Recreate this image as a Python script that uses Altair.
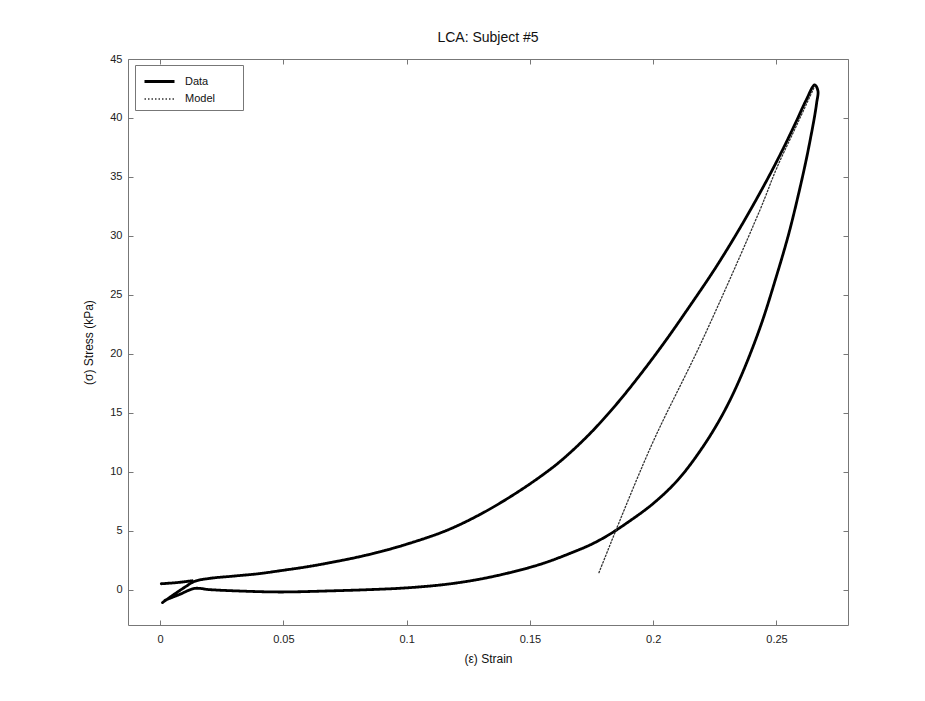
import altair as alt
import pandas as pd

# ---- Data ----
# Loading branch (strain, stress in kPa)
load_strain = [0.001, 0.005, 0.010, 0.014, 0.020, 0.030, 0.040, 0.0486, 0.060, 0.070,
               0.080, 0.089, 0.100, 0.116, 0.130, 0.143, 0.155, 0.163, 0.1742, 0.185,
               0.195, 0.205, 0.215, 0.225, 0.235, 0.245, 0.252, 0.258, 0.262, 0.2655]
load_stress = [-1.1, -0.5, 0.2, 0.7, 0.95, 1.15, 1.35, 1.6, 1.95, 2.33,
               2.75, 3.2, 3.85, 5.0, 6.4, 8.0, 9.7, 11.0, 13.2, 15.7,
               18.3, 21.1, 24.1, 27.2, 30.6, 34.3, 37.1, 39.7, 41.5, 42.8]
# Unloading branch
unload_strain = [0.2668, 0.2663, 0.2655, 0.264, 0.262, 0.259, 0.255, 0.250, 0.2433, 0.235,
                 0.228, 0.2198, 0.210, 0.200, 0.190, 0.182, 0.175, 0.166, 0.155, 0.143,
                 0.130, 0.116, 0.100, 0.085, 0.070, 0.0486, 0.030, 0.020, 0.014, 0.008, 0.002]
unload_stress = [42.3, 41.3, 40.2, 38.5, 36.4, 33.6, 30.2, 26.6, 22.2, 17.8,
                 14.8, 12.0, 9.3, 7.3, 5.75, 4.65, 3.85, 3.05, 2.2, 1.5,
                 0.9, 0.45, 0.15, 0.0, -0.1, -0.2, -0.1, 0.0, 0.1, -0.4, -0.9]
# short start segment of the data at the origin
start_strain = [0.0005, 0.007, 0.013]
start_stress = [0.5, 0.6, 0.75]
# Model curve (dotted)
model_strain = [0.178, 0.199, 0.2198, 0.2433, 0.2502, 0.258, 0.2655]
model_stress = [1.44, 12.1, 21.1, 32.2, 35.8, 39.3, 42.7]

x_ticks = [0, 0.05, 0.1, 0.15, 0.2, 0.25]
y_ticks = [0, 5, 10, 15, 20, 25, 30, 35, 40, 45]

rows = []
loop_strain = load_strain + unload_strain
loop_stress = load_stress + unload_stress
for i, (s, t) in enumerate(zip(loop_strain, loop_stress)):
    rows.append({"strain": s, "stress": t, "series": "Data", "seg": "loop", "order": i})
for i, (s, t) in enumerate(zip(start_strain, start_stress)):
    rows.append({"strain": s, "stress": t, "series": "Data", "seg": "start", "order": i})
for i, (s, t) in enumerate(zip(model_strain, model_stress)):
    rows.append({"strain": s, "stress": t, "series": "Model", "seg": "model", "order": i})
df = pd.DataFrame(rows)

FONT = "Liberation Sans"
xscale = alt.Scale(domain=[-0.013, 0.279], nice=False, zero=False)
yscale = alt.Scale(domain=[-3, 45], nice=False, zero=False)

# trailing padding inside the legend box (non-breaking spaces kept by a zero-width char)
LEGEND_PAD = "\u00a0" * 7 + "\u200b"

lines = alt.Chart(df).mark_line(strokeCap="round", strokeJoin="round", interpolate="catmull-rom").encode(
    x=alt.X("strain:Q", scale=xscale,
            axis=alt.Axis(orient="bottom", values=x_ticks, format="~f", title="(ε) Strain",
                          domain=False, grid=False, tickSize=5, offset=-5,
                          labelPadding=8, titlePadding=9, tickColor="#777")),
    y=alt.Y("stress:Q", scale=yscale,
            axis=alt.Axis(orient="left", values=y_ticks, title="(σ) Stress (kPa)",
                          domain=False, grid=False, tickSize=5, offset=-5,
                          labelPadding=6, titlePadding=14, tickColor="#777")),
    color=alt.Color("series:N", scale=alt.Scale(domain=["Data", "Model"], range=["#000000", "#333333"]),
                    legend=alt.Legend(title=None, orient="none", legendX=7, legendY=6,
                                      strokeColor="#777", fillColor="white",
                                      padding=6, symbolType="M-1.667,0H1.667", symbolSize=324,
                                      symbolOffset=8, labelOffset=15,
                                      labelExpr="datum.label + '" + LEGEND_PAD + "'",
                                      labelFontSize=11, rowPadding=1)),
    strokeDash=alt.StrokeDash("series:N", scale=alt.Scale(domain=["Data", "Model"], range=[[1, 0], [1.5, 2]]),
                              legend=alt.Legend(title=None)),
    strokeWidth=alt.StrokeWidth("series:N", scale=alt.Scale(domain=["Data", "Model"], range=[2.8, 1.3]),
                                legend=alt.Legend(title=None)),
    detail="seg:N",
    order="order:Q",
)

frame_axes = alt.Chart(df).mark_point(opacity=0).encode(
    x=alt.X("strain:Q", scale=xscale,
            axis=alt.Axis(orient="top", values=x_ticks, labels=False, title=None,
                          domain=False, grid=False, tickSize=5, offset=-5, tickColor="#777")),
    y=alt.Y("stress:Q", scale=yscale,
            axis=alt.Axis(orient="right", values=y_ticks, labels=False, title=None,
                          domain=False, grid=False, tickSize=5, offset=-5, tickColor="#777")),
)

chart = alt.layer(lines, frame_axes).resolve_axis(x="independent", y="independent").properties(
    width=720, height=566,
    title=alt.TitleParams("LCA: Subject #5", fontSize=14, fontWeight="normal", font=FONT,
                          color="#111", offset=8),
    autosize=alt.AutoSizeParams(type="none"),
    padding={"left": 128, "top": 59, "right": 77, "bottom": 76},
    background="white",
).configure_view(stroke="#777", strokeWidth=1).configure_axis(
    labelFont=FONT, titleFont=FONT, labelFontSize=11, titleFontSize=12,
    labelColor="#222", titleColor="#111", titleFontWeight="normal",
).configure_legend(labelFont=FONT, labelColor="#111")

chart.save("out.html", embed_options={"renderer": "svg", "actions": False})
